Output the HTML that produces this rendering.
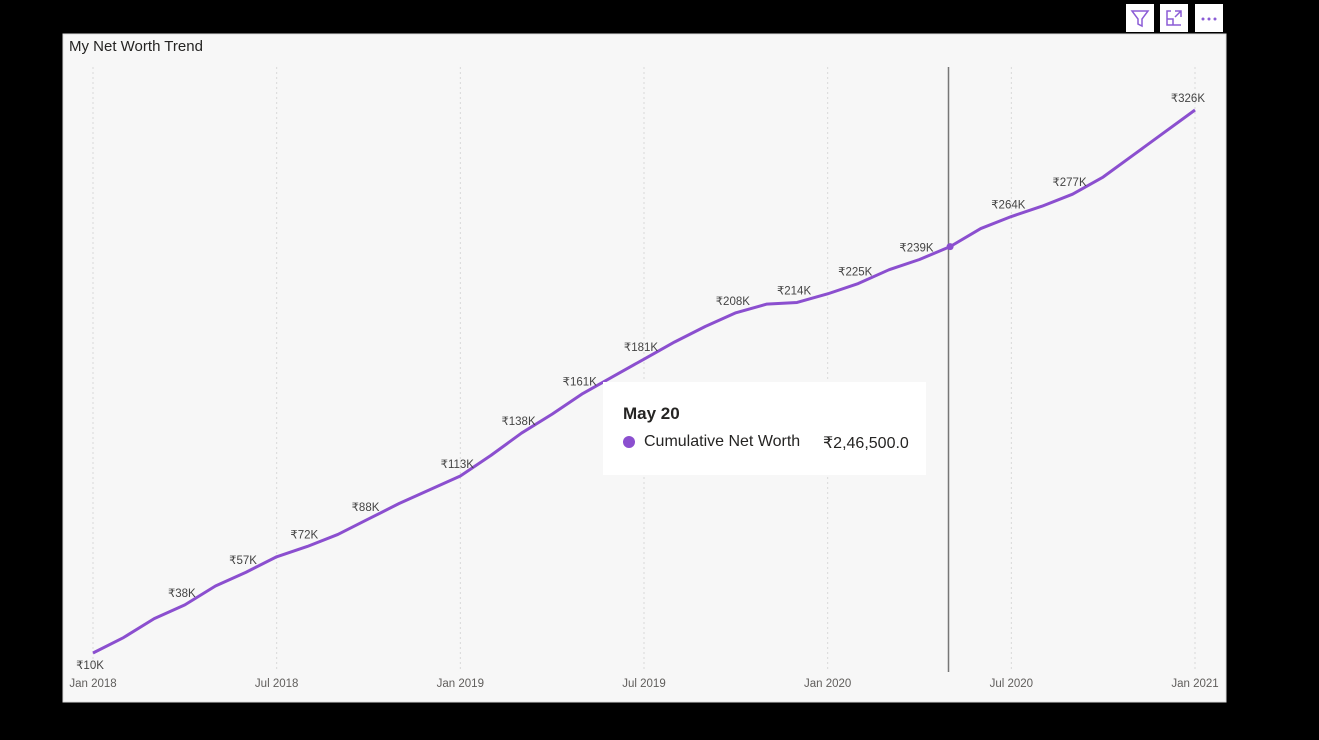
<!DOCTYPE html>
<html><head><meta charset="utf-8"><style>
body{margin:0;background:#000;width:1319px;height:740px;overflow:hidden;font-family:"Liberation Sans","DejaVu Sans",sans-serif}
.icon{position:absolute;top:4px;width:28px;height:28px;background:#fff}
</style></head><body>
<div class="icon" style="left:1126px"><svg width="28" height="28"><path d="M6 7h16l-6 8v7l-4-2v-5z" fill="none" stroke="#8b5cd6" stroke-width="1.5"/></svg></div>
<div class="icon" style="left:1160px"><svg width="28" height="28"><path d="M7 10v11h14M7 15h6v6M15 7h6v6M21 7l-6 6M7 10V7h4" fill="none" stroke="#8b5cd6" stroke-width="1.5"/></svg></div>
<div class="icon" style="left:1195px"><svg width="28" height="28"><circle cx="8" cy="15" r="1.5" fill="#8b5cd6"/><circle cx="14" cy="15" r="1.5" fill="#8b5cd6"/><circle cx="20" cy="15" r="1.5" fill="#8b5cd6"/></svg></div>
<svg id="chart" style="position:absolute;left:0;top:0" width="1319" height="740">
<rect x="63" y="34" width="1163" height="668" fill="#f7f7f7" stroke="#ddd"/>
<text x="69" y="51" font-size="15" fill="#252423">My Net Worth Trend</text>
<g id="grid"></g><g id="xt"></g>
<line x1="948.5" y1="67" x2="948.5" y2="672" stroke="#777" stroke-width="1.5"/>
<path id="line" fill="none" stroke="#8b4fcf" stroke-width="3" stroke-linejoin="round"/>
<g id="labels"></g>
<circle id="hov" r="3.5" fill="#8b4fcf"/>
</svg>
<div style="position:absolute;left:603px;top:382px;width:323px;height:93px;background:#fff">
<div style="position:absolute;left:20px;top:22px;font-weight:bold;font-size:17px;color:#252423">May 20</div>
<div style="position:absolute;left:20px;top:54px;width:12px;height:12px;border-radius:6px;background:#8b4fcf"></div>
<div style="position:absolute;left:41px;top:51px;font-size:16px;color:#252423">Cumulative Net Worth</div>
<div style="position:absolute;left:220px;top:51px;font-size:16px;color:#252423">₹2,46,500.0</div>
</div>
<script>
const values=[10,19,30,38,49,57,66,72,79,88,97,105,113,125,138,149,161,171,181,191,200,208,213,214,219,225,233,239,246.5,257,264,270,277,287,300,313,326];
const showLabel=[1,0,0,1,0,1,0,1,0,1,0,0,1,0,1,0,1,0,1,0,0,1,0,1,0,1,0,1,0,0,1,0,1,0,0,0,1];
const tickLabels=["Jan 2018","Jul 2018","Jan 2019","Jul 2019","Jan 2020","Jul 2020","Jan 2021"];
const tickMonths=[0,6,12,18,24,30,36];
const hoverIndex=28;
const NS="http://www.w3.org/2000/svg";
const x=i=>93+i*(1195-93)/36;
const y=v=>653-(v-10)*(653-110)/316;
function mk(t,a,p){const e=document.createElementNS(NS,t);for(const k in a)e.setAttribute(k,a[k]);p.appendChild(e);return e;}
const grid=document.getElementById('grid'),xt=document.getElementById('xt'),lab=document.getElementById('labels');
tickMonths.forEach((m,i)=>{
 const g=mk('line',{x1:x(m),x2:x(m),y1:67,y2:672,stroke:'#d8d8d8','stroke-dasharray':'2,3'},grid);
 
 
 const t=mk('text',{x:x(m),y:687,'font-size':11.5,fill:'#605e5c','text-anchor':'middle'},xt);
 
 
 t.textContent=tickLabels[i];
});
document.getElementById('line').setAttribute('d',values.map((v,i)=>(i?'L':'M')+x(i)+' '+y(v)).join(''));
values.forEach((v,i)=>{
 if(!showLabel[i])return;
 const t=mk('text',{x:x(i),y:i==0?y(v)+16:y(v)-8,'font-size':11.5,fill:'#444','text-anchor':i==36?'end':'middle',dx:i==36?10:-3},lab);
 
 
 t.textContent='₹'+Math.round(v)+'K';
});
const h=document.getElementById('hov');h.setAttribute('cx',x(hoverIndex));h.setAttribute('cy',y(values[hoverIndex]));
</script>
</body></html>
